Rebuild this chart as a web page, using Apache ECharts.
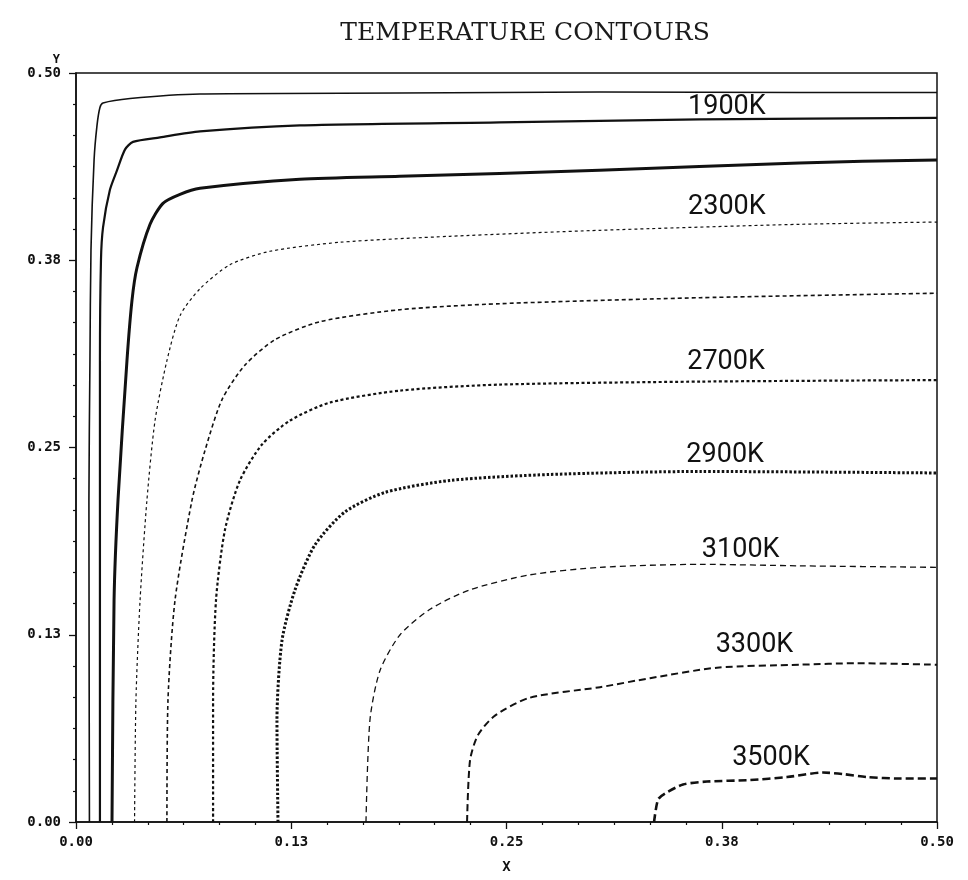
<!DOCTYPE html>
<html>
<head>
<meta charset="utf-8">
<title>Temperature contours</title>
<script src="https://cdn.jsdelivr.net/npm/echarts@6/dist/echarts.min.js"></script>
<style>
  html, body { margin: 0; padding: 0; background: #ffffff; }
  #chart { width: 968px; height: 880px; }
</style>
</head>
<body>
<div id="chart"></div>
<script>
// Isotherms of the temperature field, [x, y] pairs in domain units.
const contour1700 = [[0.0078,0],[0.0075,0.215],[0.0081,0.308],[0.0087,0.382],[0.0105,0.442],[0.0122,0.465],[0.0139,0.477],[0.0157,0.480],[0.0314,0.483],[0.072,0.486],[0.188,0.4866],[0.304,0.4873],[0.420,0.487],[0.5,0.487]];
const contour1900 = [[0.0139,0],[0.0139,0.215],[0.0139,0.308],[0.0145,0.375],[0.0157,0.397],[0.0197,0.422],[0.0238,0.435],[0.0285,0.449],[0.0331,0.454],[0.0488,0.457],[0.072,0.461],[0.130,0.465],[0.246,0.467],[0.362,0.469],[0.5,0.470]];
const contour2100 = [[0.0209,0],[0.0221,0.148],[0.0244,0.215],[0.0296,0.308],[0.0325,0.348],[0.0354,0.370],[0.0430,0.399],[0.0505,0.413],[0.0604,0.419],[0.072,0.423],[0.130,0.429],[0.188,0.431],[0.304,0.435],[0.420,0.440],[0.5,0.442]];
const contour2300 = [[0.034,0],[0.0348,0.081],[0.0372,0.148],[0.0412,0.215],[0.0459,0.268],[0.0528,0.308],[0.0604,0.338],[0.072,0.356],[0.0894,0.372],[0.1127,0.381],[0.1533,0.387],[0.2172,0.391],[0.3043,0.395],[0.4204,0.399],[0.5,0.4005]];
const contour2500 = [[0.0528,0],[0.0534,0.081],[0.0575,0.148],[0.0674,0.215],[0.0749,0.248],[0.0848,0.282],[0.0981,0.305],[0.1156,0.322],[0.1417,0.334],[0.1882,0.342],[0.2462,0.346],[0.3624,0.350],[0.5,0.353]];
const contour2700 = [[0.0796,0],[0.0796,0.081],[0.0813,0.148],[0.0865,0.195],[0.0952,0.228],[0.108,0.252],[0.1243,0.268],[0.1475,0.280],[0.1882,0.288],[0.2462,0.292],[0.3624,0.294],[0.5,0.295]];
const contour2900 = [[0.1173,0],[0.1167,0.068],[0.1196,0.121],[0.1272,0.155],[0.1388,0.185],[0.1562,0.207],[0.1794,0.220],[0.2172,0.228],[0.2753,0.232],[0.3624,0.234],[0.5,0.233]];
const contour3100 = [[0.1684,0],[0.1707,0.068],[0.1765,0.101],[0.1882,0.125],[0.2056,0.142],[0.2288,0.155],[0.2636,0.165],[0.3043,0.170],[0.3624,0.172],[0.4204,0.171],[0.5,0.170]];
const contour3300 = [[0.2271,0],[0.2288,0.041],[0.2334,0.058],[0.2433,0.071],[0.2636,0.083],[0.3043,0.090],[0.3333,0.096],[0.3722,0.103],[0.4204,0.105],[0.4535,0.106],[0.5,0.105]];
const contour3500 = [[0.3357,0],[0.338,0.015],[0.342,0.019],[0.3525,0.025],[0.3664,0.027],[0.3914,0.028],[0.4129,0.030],[0.4338,0.033],[0.4454,0.032],[0.4593,0.030],[0.4785,0.029],[0.5,0.029]];

const levels = [1700, 1900, 2100, 2300, 2500, 2700, 2900, 3100, 3300, 3500];
const contours = [contour1700, contour1900, contour2100, contour2300, contour2500,
                  contour2700, contour2900, contour3100, contour3300, contour3500];

// Which isotherms carry an inline label, and where the label sits.
const labelledLevels = [1900, 2300, 2700, 2900, 3100, 3300, 3500];
const labelX = [0.378, 0.378, 0.3775, 0.377, 0.386, 0.394, 0.4036];
const labelY = [0.477, 0.4105, 0.307, 0.245, 0.1816, 0.118, 0.0427];

// Axis ticks (labels shown with two decimals).
const axisMin = 0;
const axisMax = 0.5;
const tickStep = 0.125;

// Pen styles, one per isotherm.
const penWidth = [1.6, 2.2, 3.0, 1.2, 1.6, 2.2, 3.0, 1.3, 2.0, 2.6];
const penDash = ['solid', 'solid', 'solid', [3, 3], [4, 3], [3, 2.5], [2.5, 2], [6, 4], [7, 4], [8, 4]];

const ink = '#111111';

const series = contours.map((pts, i) => {
  const level = levels[i];
  const li = labelledLevels.indexOf(level);
  const s = {
    type: 'line',
    name: level + 'K',
    data: pts,
    showSymbol: false,
    symbol: 'none',
    smooth: 0.25,
    clip: true,
    silent: true,
    lineStyle: { color: ink, width: penWidth[i], type: penDash[i], cap: 'butt', join: 'round' }
  };
  if (li >= 0) {
    s.markPoint = {
      silent: true,
      symbol: 'circle',
      symbolSize: 1,
      itemStyle: { color: 'rgba(0,0,0,0)' },
      label: {
        show: true,
        position: 'inside',
        formatter: level + 'K',
        color: ink,
        fontFamily: 'Roboto',
        fontSize: 27
      },
      data: [{ coord: [labelX[li], labelY[li]] }]
    };
  }
  return s;
});

const tickFmt = v => v.toFixed(2);

const valueAxisCommon = {
  type: 'value',
  min: axisMin,
  max: axisMax,
  interval: tickStep,
  splitLine: { show: false },
  axisLine: { show: true, lineStyle: { color: ink, width: 1.5 } },
  axisTick: { show: true, length: 7, lineStyle: { color: ink, width: 1.3 } },
  minorTick: { show: true, splitNumber: 6, length: 3, lineStyle: { color: ink, width: 1.2 } },
  minorSplitLine: { show: false },
  axisLabel: {
    formatter: tickFmt,
    color: ink,
    fontFamily: 'DejaVu Sans Mono',
    fontWeight: 'bold',
    fontSize: 14
  }
};

const chart = echarts.init(document.getElementById('chart'), null, { renderer: 'canvas' });
chart.setOption({
  backgroundColor: '#ffffff',
  animation: false,
  title: {
    text: 'TEMPERATURE CONTOURS',
    left: 520,
    top: 16,
    textAlign: 'center',
    textStyle: {
      fontFamily: 'DejaVu Serif',
      fontWeight: 'normal',
      fontSize: 25,
      color: '#1a1a1a'
    }
  },
  grid: {
    left: 76, right: 31, top: 73, bottom: 58,
    show: true,
    borderColor: ink,
    borderWidth: 1.5,
    backgroundColor: 'transparent'
  },
  xAxis: Object.assign({}, valueAxisCommon, {
    name: 'X',
    nameLocation: 'middle',
    nameGap: 38,
    nameTextStyle: { color: ink, fontFamily: 'DejaVu Sans Mono', fontWeight: 'bold', fontSize: 14 },
    axisLabel: Object.assign({}, valueAxisCommon.axisLabel, { margin: 13 })
  }),
  yAxis: Object.assign({}, valueAxisCommon, {
    name: 'Y',
    nameLocation: 'end',
    nameGap: 7,
    nameTextStyle: { color: ink, fontFamily: 'DejaVu Sans Mono', fontWeight: 'bold', fontSize: 12, align: 'right', padding: [0, 16, 0, 0] },
    axisLabel: Object.assign({}, valueAxisCommon.axisLabel, { margin: 15 })
  }),
  series: series
});
</script>
</body>
</html>
